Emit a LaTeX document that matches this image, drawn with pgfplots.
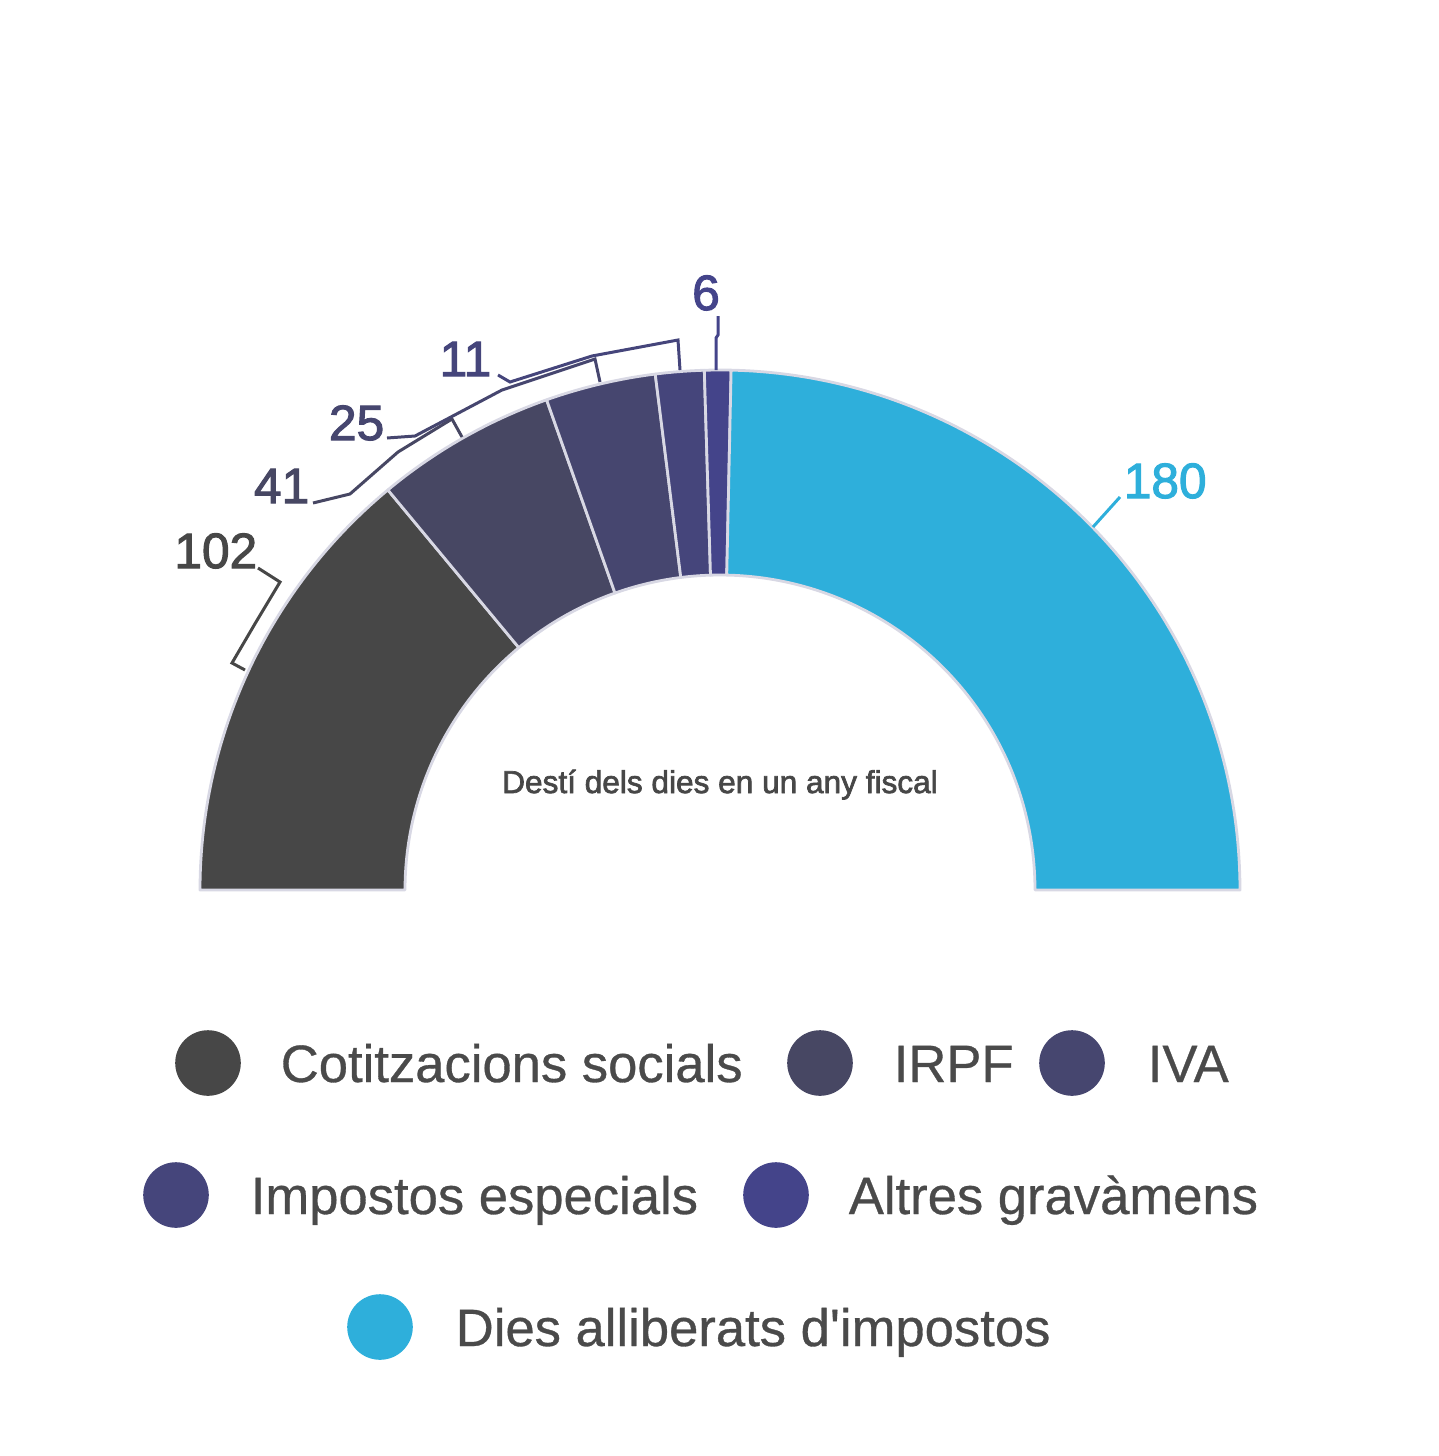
\documentclass[border=0pt]{standalone}
\usepackage{fontspec}
\setmainfont{Liberation Sans}
\newfontfamily\medfont[FakeBold=2.2]{Liberation Sans}
\newfontfamily\legfont[FakeBold=0.6]{Liberation Sans}
\usepackage{pgfplots}
\usepackage{pgfplotstable}
\pgfplotsset{compat=1.18}
\definecolor{c1}{HTML}{474747}
\definecolor{c2}{HTML}{474763}
\definecolor{c3}{HTML}{46466F}
\definecolor{c4}{HTML}{45457B}
\definecolor{c5}{HTML}{44448A}
\definecolor{c6}{HTML}{2EAFDB}
\definecolor{edge}{HTML}{D8D8E4}
\definecolor{txt}{HTML}{4A4A4A}

\pgfplotstableread{
value
102
41
25
11
6
180
}\piedata

\pgfplotstablegetelem{0}{value}\of\piedata\let\vA\pgfplotsretval
\pgfplotstablegetelem{1}{value}\of\piedata\let\vB\pgfplotsretval
\pgfplotstablegetelem{2}{value}\of\piedata\let\vC\pgfplotsretval
\pgfplotstablegetelem{3}{value}\of\piedata\let\vD\pgfplotsretval
\pgfplotstablegetelem{4}{value}\of\piedata\let\vE\pgfplotsretval
\pgfplotstablegetelem{5}{value}\of\piedata\let\vF\pgfplotsretval
\pgfmathsetmacro\tot{\vA+\vB+\vC+\vD+\vE+\vF}
\pgfmathsetmacro\aA{180}
\pgfmathsetmacro\aB{\aA-180*(\vA/\tot)}
\pgfmathsetmacro\aC{\aB-180*(\vB/\tot)}
\pgfmathsetmacro\aD{\aC-180*(\vC/\tot)}
\pgfmathsetmacro\aE{\aD-180*(\vD/\tot)}
\pgfmathsetmacro\aF{\aE-180*(\vE/\tot)}
\pgfmathsetmacro\aG{0}

\newcommand\seg[3]{%
 \addplot[fill=#3, draw=edge, line width=0.7pt, line join=round, domain=0:3, samples=301, variable=\t]
 ({720+(520-205*min(max(\t-1,0),1))*cos(#1+(#2-#1)*(min(\t,1)-max(\t-2,0)))},
  {890-(520-205*min(max(\t-1,0),1))*sin(#1+(#2-#1)*(min(\t,1)-max(\t-2,0)))}) -- cycle;
}

\begin{document}%
\begin{tikzpicture}
\begin{axis}[hide axis, x=0.25pt, y=0.25pt, xmin=0, xmax=1438, ymin=0, ymax=1456,
  y dir=reverse, clip=false]
\path (axis cs:0,0) rectangle (axis cs:1438,1456);
\seg{\aA}{\aB}{c1}
\seg{\aB}{\aC}{c2}
\seg{\aC}{\aD}{c3}
\seg{\aD}{\aE}{c4}
\seg{\aE}{\aF}{c5}
\seg{\aF}{\aG}{c6}
% leader lines
\addplot[c1, line width=0.75pt, sharp plot, no markers] coordinates {(258,568) (280,582) (256,622) (232,663) (245,670)};
\addplot[c2, line width=0.75pt, sharp plot, no markers] coordinates {(313,503) (350,494) (398,452) (452,419) (462,437)};
\addplot[c3, line width=0.75pt, sharp plot, no markers] coordinates {(387,438) (415,436) (502,390) (595,359) (600,382)};
\addplot[c4, line width=0.75pt, sharp plot, no markers] coordinates {(498,375) (510,382) (592,356) (678,340) (680,370)};
\addplot[c5, line width=0.75pt, sharp plot, no markers] coordinates {(718,316) (718,335) (716,338) (716,370)};
\addplot[c6, line width=0.75pt, sharp plot, no markers] coordinates {(1120,497) (1093,527)};
% value labels
\begin{scope}[every node/.style={inner sep=0pt, font=\medfont\fontsize{12.4}{14}\selectfont}]
\node[anchor=base east, text=c1] at (axis cs:258,568) {102};
\node[anchor=base east, text=c2] at (axis cs:310,503) {41};
\node[anchor=base east, text=c3] at (axis cs:385,440) {25};
\node[anchor=base east, text=c4] at (axis cs:492,376) {11};
\node[anchor=base, text=c5] at (axis cs:706,310) {6};
\node[anchor=base west, text=c6] at (axis cs:1123,498) {180};
\end{scope}
\node[anchor=base, inner sep=0pt, text=c1, font=\medfont\fontsize{7.9}{9}\selectfont] at (axis cs:720,793) {Destí dels dies en un any fiscal};
% legend
\addplot[only marks, mark=*, mark size=8pt, color=c1] coordinates {(208,1063)};
\addplot[only marks, mark=*, mark size=8pt, color=c2] coordinates {(820,1063)};
\addplot[only marks, mark=*, mark size=8pt, color=c3] coordinates {(1072,1063)};
\addplot[only marks, mark=*, mark size=8pt, color=c4] coordinates {(176,1195)};
\addplot[only marks, mark=*, mark size=8pt, color=c5] coordinates {(776,1195)};
\addplot[only marks, mark=*, mark size=8pt, color=c6] coordinates {(380,1327)};
\begin{scope}[every node/.style={inner sep=0pt, anchor=base west, text=txt, font=\legfont\fontsize{13.15}{16}\selectfont}]
\node at (axis cs:280,1082) {Cotitzacions socials};
\node at (axis cs:893,1082) {IRPF};
\node at (axis cs:1147,1082) {IVA};
\node at (axis cs:250,1214) {Impostos especials};
\node at (axis cs:848,1214) {Altres gravàmens};
\node at (axis cs:455,1346) {Dies alliberats d\textquotesingle impostos};
\end{scope}
\end{axis}
\end{tikzpicture}%
\end{document}
